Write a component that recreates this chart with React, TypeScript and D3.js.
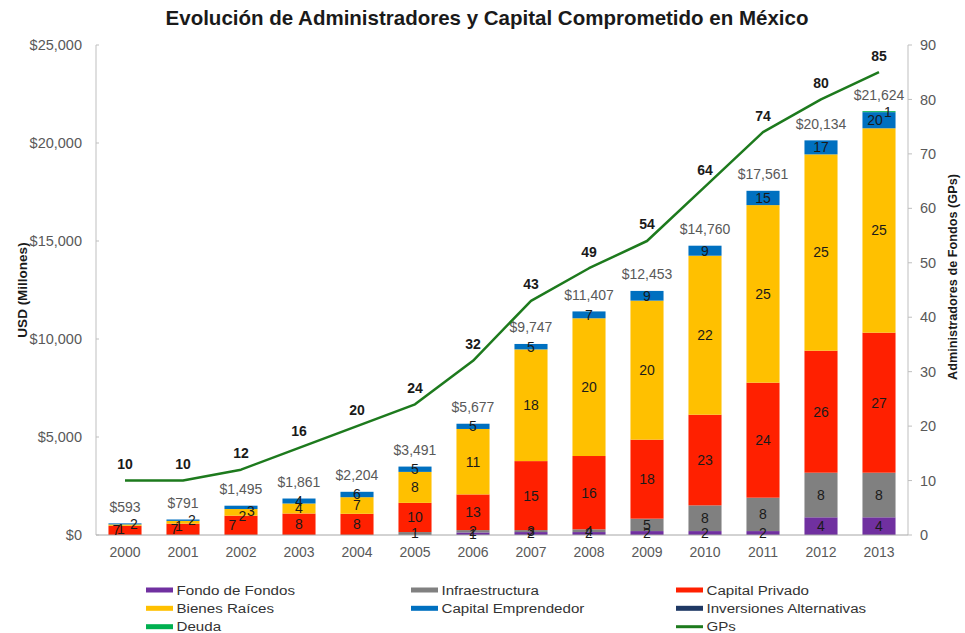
import React from 'react';
import * as d3 from 'd3';

const years = ['2000','2001','2002','2003','2004','2005','2006','2007','2008','2009','2010','2011','2012','2013'];

// USD millions per category
const fondoDeFondos = [0,0,0,0,0,0,130,150,150,200,200,200,903,903];
const infraestructura = [0,0,0,0,0,150,120,100,140,633,1311,1704,2276,2276];
const capitalPrivado = [470,580,985,1096,1082,1490,1820,3520,3740,4031,4626,5867,6224,7143];
const bienesRaices = [70,140,340,510,847,1580,3340,5700,7027,7094,8113,9060,10017,10429];
const capitalEmprendedor = [53,71,170,255,275,271,267,277,350,495,510,730,714,823];
const inversionesAlternativas = [0,0,0,0,0,0,0,0,0,0,0,0,0,0];
const deuda = [0,0,0,0,0,0,0,0,0,0,0,0,0,50];

// number of funds shown as segment labels
const fondoDeFondosCount = [0,0,0,0,0,0,1,2,2,2,2,2,4,4];
const infraestructuraCount = [0,0,0,0,0,1,2,3,4,5,8,8,8,8];
const capitalPrivadoCount = [7,7,7,8,8,10,13,15,16,18,23,24,26,27];
const bienesRaicesCount = [1,1,2,4,7,8,11,18,20,20,22,25,25,25];
const capitalEmprendedorCount = [2,2,3,4,6,5,5,5,7,9,9,15,17,20];
const inversionesAlternativasCount = [0,0,0,0,0,0,0,0,0,0,0,0,0,0];
const deudaCount = [0,0,0,0,0,0,0,0,0,0,0,0,0,1];

// GPs (right axis)
const gps = [10,10,12,16,20,24,32,43,49,54,64,74,80,85];

const leftTicks = [0,5000,10000,15000,20000,25000];
const rightTicks = [0,10,20,30,40,50,60,70,80,90];

const seriesNames = ['Fondo de Fondos','Infraestructura','Capital Privado','Bienes Raíces','Capital Emprendedor','Inversiones Alternativas','Deuda'];
const seriesColors = ['#7030a0','#808080','#ff2000','#ffc000','#0070c0','#1f3864','#00b050'];
const seriesValues = [fondoDeFondos, infraestructura, capitalPrivado, bienesRaices, capitalEmprendedor, inversionesAlternativas, deuda];
const seriesCounts = [fondoDeFondosCount, infraestructuraCount, capitalPrivadoCount, bienesRaicesCount, capitalEmprendedorCount, inversionesAlternativasCount, deudaCount];

const W = 965, H = 633;
const M = { left: 96, right: 908, top: 45, bottom: 535 };
const FONT = 'Liberation Sans, Arial, Helvetica, sans-serif';
const GREEN_LINE = '#1d7a1d';
const FS = 14;

export default function App() {
  const x = d3.scaleBand<string>().domain(years).range([M.left, M.right]).paddingInner(0.43).paddingOuter(0.215);
  const yL = d3.scaleLinear().domain([0, 25000]).range([M.bottom, M.top]);
  const yR = d3.scaleLinear().domain([0, 90]).range([M.bottom, M.top]);

  const table = years.map((yr, i) => {
    const row: any = { year: yr };
    seriesNames.forEach((n, s) => { row[n] = seriesValues[s][i]; });
    return row;
  });
  const stack = d3.stack<any>().keys(seriesNames)(table);
  const totals = years.map((_, i) => d3.sum(seriesValues, (s) => s[i]));
  const fmt = d3.format(',');
  const bw = x.bandwidth();
  const cx = (yr: string) => (x(yr) as number) + bw / 2;

  // segment labels with simple layout rules
  const labels: any[] = [];
  years.forEach((yr, i) => {
    const barPx = yL(0) - yL(totals[i]);
    const items: any[] = [];
    stack.forEach((layer, s) => {
      const d = layer[i];
      const c = seriesCounts[s][i];
      if (!c) return;
      const y0 = yL(d[0]), y1 = yL(d[1]);
      items.push({ s, c, y: (y0 + y1) / 2, h: y0 - y1, top: y1, dx: 0 });
    });
    if (barPx < 32) {
      // spread crowded labels of short bars sideways
      items.forEach((it, k) => {
        it.dx = k === 0 ? -8.5 : -8.5 + 10 + (k - 1) * 8.5;
        if (k > 0) it.y += 4;
      });
    }
    const last = items.length - 1;
    if (last > 0 && items[last].h < 2) {
      items[last].dx = 9; items[last].y = items[last].top + 1;
      items[last - 1].dx = -4;
    }
    items.forEach((it) => labels.push({ ...it, x: cx(yr) + it.dx, key: `${yr}-${it.s}` }));
  });

  const line = d3.line<number>().x((_, i) => cx(years[i])).y((d) => yR(d));

  const legendItems: any[] = [
    { name: 'Fondo de Fondos', color: seriesColors[0] },
    { name: 'Infraestructura', color: seriesColors[1] },
    { name: 'Capital Privado', color: seriesColors[2] },
    { name: 'Bienes Raíces', color: seriesColors[3] },
    { name: 'Capital Emprendedor', color: seriesColors[4] },
    { name: 'Inversiones Alternativas', color: seriesColors[5] },
    { name: 'Deuda', color: seriesColors[6] },
    null,
    { name: 'GPs', color: GREEN_LINE, line: true },
  ];
  const legCols = [146, 411, 676];
  const legRows = [590, 608.3, 626.7];

  return (
    <svg width={W} height={H} style={{ position: 'absolute', left: 0, top: 0, background: '#fff' }} fontFamily={FONT}>
      <rect x={0} y={0} width={W} height={H} fill="#fff" />
      <text x={487} y={25} textAnchor="middle" fontSize={20.5} fontWeight="bold" fill="#1a1a1a">
        Evolución de Administradores y Capital Comprometido en México
      </text>

      {/* bars */}
      {stack.map((layer, s) => (
        <g key={seriesNames[s]} fill={seriesColors[s]}>
          {layer.map((d, i) => {
            const h = yL(d[0]) - yL(d[1]);
            if (h <= 0) return null;
            return <rect key={i} x={x(years[i])} y={yL(d[1])} width={bw} height={h} />;
          })}
        </g>
      ))}

      {/* axes */}
      <line x1={M.left} x2={M.left} y1={M.top} y2={M.bottom} stroke="#bfbfbf" />
      <line x1={M.right} x2={M.right} y1={M.top} y2={M.bottom} stroke="#bfbfbf" />
      <line x1={M.left} x2={M.right} y1={M.bottom} y2={M.bottom} stroke="#a6a6a6" />
      {leftTicks.map((t) => (
        <g key={t}>
          <line x1={M.left} x2={M.left + 3} y1={yL(t)} y2={yL(t)} stroke="#bfbfbf" />
          <text x={82} y={yL(t)} dy="0.35em" textAnchor="end" fontSize={14.5} fill="#595959">{'$' + fmt(t)}</text>
        </g>
      ))}
      {rightTicks.map((t) => (
        <g key={t}>
          <line x1={M.right} x2={M.right + 4} y1={yR(t)} y2={yR(t)} stroke="#bfbfbf" />
          <text x={920} y={yR(t)} dy="0.35em" textAnchor="start" fontSize={14.5} fill="#595959">{t}</text>
        </g>
      ))}
      {years.map((yr) => (
        <text key={yr} x={cx(yr)} y={552} dy="0.35em" textAnchor="middle" fontSize={FS} fill="#595959">{yr}</text>
      ))}
      <text transform="translate(27,290) rotate(-90)" textAnchor="middle" fontSize={13.5} fontWeight="bold" fill="#1a1a1a">USD (Millones)</text>
      <text transform="translate(957,277) rotate(-90)" textAnchor="middle" fontSize={12.7} fontWeight="bold" fill="#1a1a1a">Administradores de Fondos (GPs)</text>

      {/* segment labels */}
      {labels.map((l) => (
        <text key={l.key} x={l.x} y={l.y} dy="0.35em" textAnchor="middle" fontSize={FS} fill="#1a1a1a">{l.c}</text>
      ))}

      {/* totals */}
      {years.map((yr, i) => (
        <text key={yr} x={cx(yr)} y={yL(totals[i]) - 16.5} dy="0.35em" textAnchor="middle" fontSize={FS} fill="#595959">{'$' + fmt(totals[i])}</text>
      ))}

      {/* GP line */}
      <path d={line(gps) || ''} fill="none" stroke={GREEN_LINE} strokeWidth={2.5} strokeLinejoin="round" />
      {gps.map((g, i) => (
        <text key={i} x={cx(years[i])} y={yR(g) - 16.5} dy="0.35em" textAnchor="middle" fontSize={FS} fontWeight="bold" fill="#1a1a1a">{g}</text>
      ))}

      {/* legend */}
      {legendItems.map((it, k) => {
        if (!it) return null;
        const lx = legCols[k % 3];
        const ly = legRows[Math.floor(k / 3)];
        return (
          <g key={it.name}>
            {it.line
              ? <line x1={lx} x2={lx + 27} y1={ly} y2={ly} stroke={it.color} strokeWidth={3} />
              : <rect x={lx} y={ly - 2.5} width={27} height={5} fill={it.color} />}
            <text transform={`translate(${lx + 30.5},${ly}) scale(1.12,1)`} dy="0.35em" fontSize={13.5} fill="#333">{it.name}</text>
          </g>
        );
      })}
    </svg>
  );
}
